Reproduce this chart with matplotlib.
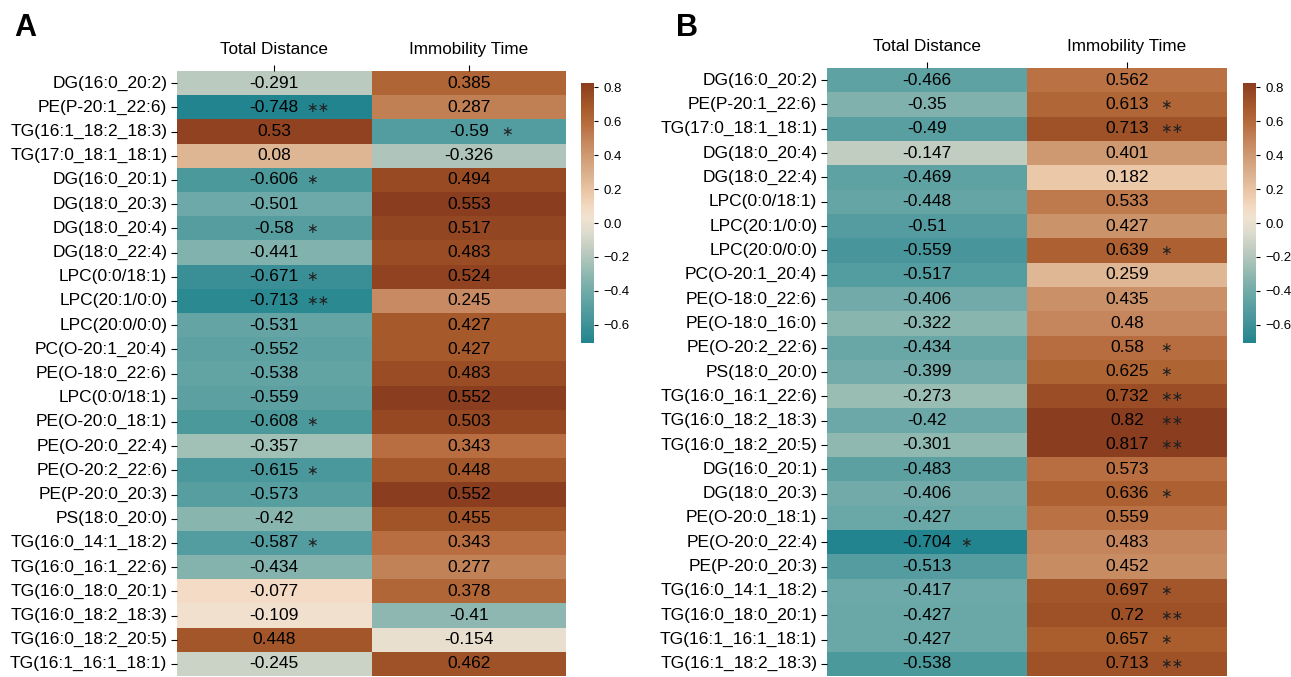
import matplotlib
matplotlib.use("Agg")
import matplotlib.pyplot as plt
import numpy as np
import seaborn as sns
from matplotlib.colors import LinearSegmentedColormap, Normalize
from matplotlib.cm import ScalarMappable

plt.rcParams['font.family'] = ['Liberation Sans', 'DejaVu Sans']

columns = ["Total Distance", "Immobility Time"]

rows_A = ["DG(16:0_20:2)", "PE(P-20:1_22:6)", "TG(16:1_18:2_18:3)", "TG(17:0_18:1_18:1)",
          "DG(16:0_20:1)", "DG(18:0_20:3)", "DG(18:0_20:4)", "DG(18:0_22:4)", "LPC(0:0/18:1)",
          "LPC(20:1/0:0)", "LPC(20:0/0:0)", "PC(O-20:1_20:4)", "PE(O-18:0_22:6)", "LPC(0:0/18:1)",
          "PE(O-20:0_18:1)", "PE(O-20:0_22:4)", "PE(O-20:2_22:6)", "PE(P-20:0_20:3)", "PS(18:0_20:0)",
          "TG(16:0_14:1_18:2)", "TG(16:0_16:1_22:6)", "TG(16:0_18:0_20:1)", "TG(16:0_18:2_18:3)",
          "TG(16:0_18:2_20:5)", "TG(16:1_16:1_18:1)"]
td_A = [-0.291, -0.748, 0.53, 0.08, -0.606, -0.501, -0.58, -0.441, -0.671, -0.713, -0.531, -0.552,
        -0.538, -0.559, -0.608, -0.357, -0.615, -0.573, -0.42, -0.587, -0.434, -0.077, -0.109, 0.448, -0.245]
it_A = [0.385, 0.287, -0.59, -0.326, 0.494, 0.553, 0.517, 0.483, 0.524, 0.245, 0.427, 0.427, 0.483,
        0.552, 0.503, 0.343, 0.448, 0.552, 0.455, 0.343, 0.277, 0.378, -0.41, -0.154, 0.462]
sig_td_A = ["", "**", "", "", "*", "", "*", "", "*", "**", "", "", "", "", "*", "", "*", "", "", "*",
            "", "", "", "", ""]
sig_it_A = ["", "", "*", "", "", "", "", "", "", "", "", "", "", "", "", "", "", "", "", "", "", "", "",
            "", ""]

rows_B = ["DG(16:0_20:2)", "PE(P-20:1_22:6)", "TG(17:0_18:1_18:1)", "DG(18:0_20:4)", "DG(18:0_22:4)",
          "LPC(0:0/18:1)", "LPC(20:1/0:0)", "LPC(20:0/0:0)", "PC(O-20:1_20:4)", "PE(O-18:0_22:6)",
          "PE(O-18:0_16:0)", "PE(O-20:2_22:6)", "PS(18:0_20:0)", "TG(16:0_16:1_22:6)", "TG(16:0_18:2_18:3)",
          "TG(16:0_18:2_20:5)", "DG(16:0_20:1)", "DG(18:0_20:3)", "PE(O-20:0_18:1)", "PE(O-20:0_22:4)",
          "PE(P-20:0_20:3)", "TG(16:0_14:1_18:2)", "TG(16:0_18:0_20:1)", "TG(16:1_16:1_18:1)",
          "TG(16:1_18:2_18:3)"]
td_B = [-0.466, -0.35, -0.49, -0.147, -0.469, -0.448, -0.51, -0.559, -0.517, -0.406, -0.322, -0.434,
        -0.399, -0.273, -0.42, -0.301, -0.483, -0.406, -0.427, -0.704, -0.513, -0.417, -0.427, -0.427, -0.538]
it_B = [0.562, 0.613, 0.713, 0.401, 0.182, 0.533, 0.427, 0.639, 0.259, 0.435, 0.48, 0.58, 0.625, 0.732,
        0.82, 0.817, 0.573, 0.636, 0.559, 0.483, 0.452, 0.697, 0.72, 0.657, 0.713]
sig_td_B = [""] * 19 + ["*"] + [""] * 5
sig_it_B = ["", "*", "**", "", "", "", "", "*", "", "", "", "*", "*", "**", "**", "**", "", "*", "", "",
            "", "*", "**", "*", "**"]

cbar_ticks = [-0.6, -0.4, -0.2, 0.0, 0.2, 0.4, 0.6, 0.8]

anchors = [(0.00, '#22848e'), (0.19, '#6ea9a8'), (0.24, '#84b3ad'), (0.30, '#a2c0b6'),
           (0.36, '#c0ccc1'), (0.42, '#dcdbcd'), (0.48, '#f0e2d0'), (0.52, '#f3dbc4'),
           (0.58, '#ebc8a8'), (0.64, '#ddb492'), (0.72, '#cf9a72'), (0.78, '#c4855c'),
           (0.84, '#b86e40'), (0.90, '#a85c2c'), (0.95, '#9a4d24'), (1.00, '#8b3d1f')]
cmap = LinearSegmentedColormap.from_list("tealbrown", anchors)

W, H = 1291, 677
fig = plt.figure(figsize=(W / 100, H / 100), dpi=100)


def fr(x0, y0, x1, y1):
    return [x0 / W, 1 - y1 / H, (x1 - x0) / W, (y1 - y0) / H]


def panel(rect, rows, td, it, sig_td, sig_it, cbrect, letter, letter_x):
    ax = fig.add_axes(rect)
    data = np.column_stack([td, it])
    vmin, vmax = float(data.min()), float(data.max())
    sns.heatmap(data, ax=ax, cmap=cmap, vmin=vmin, vmax=vmax, cbar=False,
                xticklabels=columns, yticklabels=rows)
    ax.xaxis.tick_top()
    ax.tick_params(axis='x', length=4, width=0.8, labelsize=12.3, pad=6, rotation=0)
    ax.tick_params(axis='y', length=4, width=0.8, labelsize=12.5, pad=3, rotation=0)
    sigs = [sig_td, sig_it]
    for j in range(2):
        for i in range(len(rows)):
            v = data[i, j]
            ax.text(j + 0.5, i + 0.5, f"{v:g}", ha='center', va='center', fontsize=12.5, color='black')
            if sigs[j][i]:
                ax.text(j + 0.665, i + 0.52, sigs[j][i].replace('*', '\u2217'), ha='left', va='center',
                        fontsize=10, color='#222222', family='DejaVu Sans')
    cax = fig.add_axes(cbrect)
    sm = ScalarMappable(norm=Normalize(vmin=-0.707, vmax=0.825), cmap=cmap)
    cb = fig.colorbar(sm, cax=cax, ticks=cbar_ticks)
    cb.outline.set_visible(False)
    cb.ax.tick_params(labelsize=9.5, length=3, width=0.8)
    fig.text(letter_x / W, 1 - 28 / H, letter, fontsize=22, fontweight='bold', va='center', ha='left')


panel(fr(177, 71, 566, 676), rows_A, td_A, it_A, sig_td_A, sig_it_A, fr(581, 83, 594, 343), "A", 14)
panel(fr(827, 68, 1227, 676), rows_B, td_B, it_B, sig_td_B, sig_it_B, fr(1243, 83, 1256, 343), "B", 676)

fig.savefig("out.png", dpi=100)
